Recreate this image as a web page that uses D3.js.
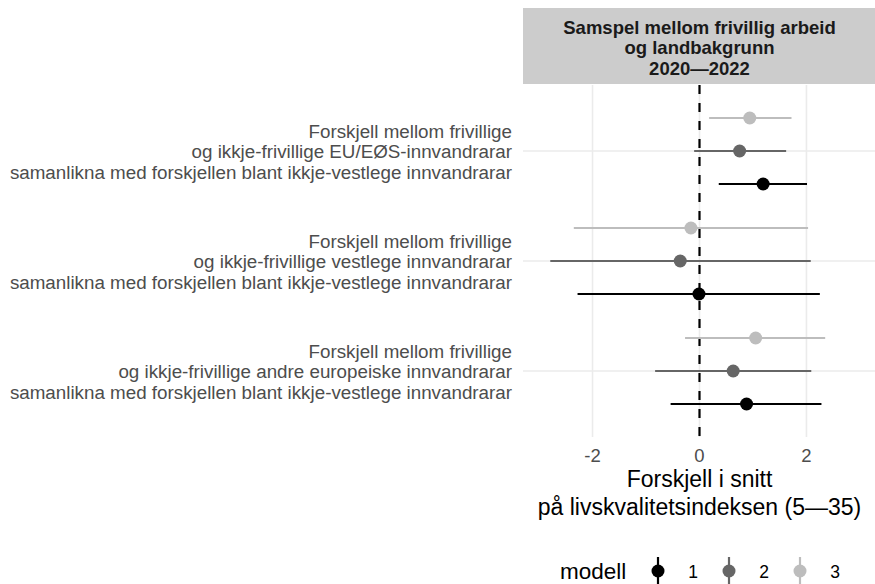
<!DOCTYPE html>
<html>
<head>
<meta charset="utf-8">
<script src="https://cdn.jsdelivr.net/npm/d3@7"></script>
<style>
  body { margin: 0; background: #fff; }
  svg text { font-family: "Liberation Sans", Arial, sans-serif; }
</style>
</head>
<body>
<div id="chart"></div>
<script>
var width = 875, height = 584;

// groups from top to bottom, each label split over three lines
var groups = ["eu", "vest", "andre"];
var groupLabels = [
    ["Forskjell mellom frivillige", "og ikkje-frivillige EU/EØS-innvandrarar", "samanlikna med forskjellen blant ikkje-vestlege innvandrarar"],
    ["Forskjell mellom frivillige", "og ikkje-frivillige vestlege innvandrarar", "samanlikna med forskjellen blant ikkje-vestlege innvandrarar"],
    ["Forskjell mellom frivillige", "og ikkje-frivillige andre europeiske innvandrarar", "samanlikna med forskjellen blant ikkje-vestlege innvandrarar"]
];
var models = ["1", "2", "3"];
var modelColors = ["#000000", "#666666", "#bdbdbd"];

// estimates and interval per group, one value per model (1, 2, 3)
var estimate = [[1.19, 0.75, 0.94], [-0.01, -0.36, -0.16], [0.88, 0.63, 1.05]];
var lower    = [[0.36, -0.10, 0.18], [-2.28, -2.79, -2.35], [-0.54, -0.83, -0.27]];
var upper    = [[2.01, 1.62, 1.72], [2.25, 2.08, 2.03], [2.28, 2.09, 2.35]];

var xTicks = [-2, 0, 2];
var stripTitle = ["Samspel mellom frivillig arbeid", "og landbakgrunn", "2020\u20142022"];
var xTitle = ["Forskjell i snitt", "p\u00e5 livskvalitetsindeksen (5\u201435)"];

var panel = { left: 523, right: 876, top: 85, bottom: 437 };

var svg = d3.select("#chart")
    .append("svg")
        .attr("width", width)
        .attr("height", height);

// scales
var x = d3.scaleLinear()
    .domain([-3.3, 3.3])
    .range([panel.left, panel.right]);

var y = d3.scalePoint()
    .domain(groups)
    .range([panel.top, panel.bottom])
    .padding(0.6);

// dodge: model 3 on top, model 1 at the bottom
var dodge = d3.scalePoint()
    .domain(["3", "2", "1"])
    .range([-33, 33]);

var color = d3.scaleOrdinal().domain(models).range(modelColors);

//// grid ////
svg.append("g").selectAll("line")
    .data(xTicks)
    .join("line")
        .attr("x1", function(d) { return x(d); })
        .attr("x2", function(d) { return x(d); })
        .attr("y1", panel.top)
        .attr("y2", panel.bottom)
        .attr("stroke", "#ebebeb")
        .attr("stroke-width", 1.6);

svg.append("g").selectAll("line")
    .data(groups)
    .join("line")
        .attr("x1", panel.left)
        .attr("x2", panel.right)
        .attr("y1", function(d) { return y(d); })
        .attr("y2", function(d) { return y(d); })
        .attr("stroke", "#ebebeb")
        .attr("stroke-width", 1.6);

//// strip ////
svg.append("rect")
    .attr("x", panel.left)
    .attr("y", 8)
    .attr("width", panel.right - panel.left)
    .attr("height", 76)
    .attr("fill", "#cccccc");

svg.append("g").selectAll("text")
    .data(stripTitle)
    .join("text")
        .attr("x", (panel.left + panel.right) / 2)
        .attr("y", function(d, i) { return 33.5 + i * 20.5; })
        .attr("text-anchor", "middle")
        .attr("font-size", "18.5px")
        .attr("font-weight", "bold")
        .attr("fill", "#1a1a1a")
        .text(function(d) { return d; });

//// zero line ////
svg.append("line")
    .attr("x1", x(0))
    .attr("x2", x(0))
    .attr("y1", panel.top)
    .attr("y2", panel.bottom)
    .attr("stroke", "#000")
    .attr("stroke-width", 2.2)
    .attr("stroke-dasharray", "9,9");

//// point ranges ////
var rows = [];
groups.forEach(function(g, gi) {
    models.forEach(function(m, mi) {
        rows.push({ group: g, model: m, est: estimate[gi][mi], lo: lower[gi][mi], hi: upper[gi][mi] });
    });
});
// draw light models first so black sits on top
rows.sort(function(a, b) { return d3.descending(a.model, b.model); });

var pr = svg.append("g").selectAll("g")
    .data(rows)
    .join("g")
        .attr("transform", function(d) { return "translate(0," + (y(d.group) + dodge(d.model)) + ")"; });

pr.append("line")
    .attr("x1", function(d) { return x(d.lo); })
    .attr("x2", function(d) { return x(d.hi); })
    .attr("stroke", function(d) { return color(d.model); })
    .attr("stroke-width", 2.2);

pr.append("circle")
    .attr("cx", function(d) { return x(d.est); })
    .attr("r", 6.5)
    .attr("fill", function(d) { return color(d.model); });

//// y labels ////
var ylab = svg.append("g").selectAll("text")
    .data(groups)
    .join("text")
        .attr("text-anchor", "end")
        .attr("font-size", "18.8px")
        .attr("fill", "#4d4d4d");

ylab.selectAll("tspan")
    .data(function(d, i) { return groupLabels[i].map(function(t) { return { t: t, g: d }; }); })
    .join("tspan")
        .attr("x", 512)
        .attr("y", function(d, i) { return y(d.g) + (i - 1) * 20.5 + 7; })
        .text(function(d) { return d.t; });

//// x axis ////
svg.append("g").selectAll("text")
    .data(xTicks)
    .join("text")
        .attr("x", function(d) { return x(d); })
        .attr("y", 462)
        .attr("text-anchor", "middle")
        .attr("font-size", "18.5px")
        .attr("fill", "#4d4d4d")
        .text(function(d) { return d < 0 ? "-" + Math.abs(d) : d; });

svg.append("g").selectAll("text")
    .data(xTitle)
    .join("text")
        .attr("x", (panel.left + panel.right) / 2)
        .attr("y", function(d, i) { return 487 + i * 27.5; })
        .attr("text-anchor", "middle")
        .attr("font-size", "23px")
        .attr("fill", "#000")
        .text(function(d) { return d; });

//// legend ////
var legend = svg.append("g");
legend.append("text")
    .attr("x", 560)
    .attr("y", 579)
    .attr("font-size", "22.5px")
    .attr("fill", "#000")
    .text("modell");

var keyX = d3.scalePoint().domain(models).range([658, 800]);
var key = legend.selectAll("g.key")
    .data(models)
    .join("g")
        .attr("class", "key")
        .attr("transform", function(d) { return "translate(" + keyX(d) + ",571)"; });

key.append("line")
    .attr("y1", -14)
    .attr("y2", 14)
    .attr("stroke", function(d) { return color(d); })
    .attr("stroke-width", 2.2);
key.append("circle")
    .attr("r", 6.5)
    .attr("fill", function(d) { return color(d); });
key.append("text")
    .attr("x", 35)
    .attr("y", 6.5)
    .attr("text-anchor", "middle")
    .attr("font-size", "17.5px")
    .attr("fill", "#000")
    .text(function(d) { return d; });
</script>
</body>
</html>
